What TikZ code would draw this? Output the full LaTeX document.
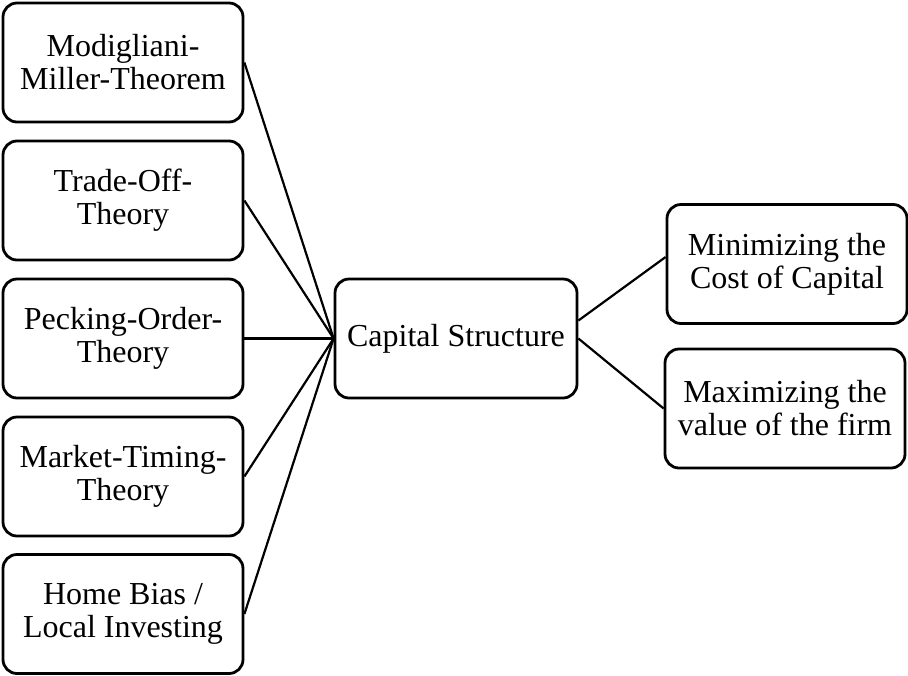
\documentclass[tikz,border=0pt]{standalone}
\usepackage{fontspec}
\setmainfont{Liberation Serif}
\usetikzlibrary{positioning}
\tikzset{
  theory/.style={draw, line width=1.4pt, rounded corners=7pt, minimum width=120pt,
    minimum height=59.5pt, align=center, inner sep=2pt,
    font=\fontsize{16}{16.5}\selectfont},
  goal/.style={theory, minimum width=121pt},
}
\begin{document}
\begin{tikzpicture}[x=0.5pt, y=-0.5pt, line width=1.1pt]
  \useasboundingbox (0,0) rectangle (908,675);
  % --- Theorien links ---
  \node[theory] (mm)  at (123,62.5)  {Modigliani-\\Miller-Theorem};
  \node[theory] (to)  at (123,200.5) {Trade-Off-\\Theory};
  \node[theory] (po)  at (123,338.5) {Pecking-Order-\\Theory};
  \node[theory] (mt)  at (123,476.5) {Market-Timing-\\Theory};
  \node[theory] (hb)  at (123,614)   {Home Bias /\\Local Investing};
  % --- Mitte ---
  \node[goal] (cs) at (456,338.5) {Capital Structure};
  % --- Ziele rechts ---
  \node[theory] (cost) at (787,264)   {Minimizing the\\Cost of Capital};
  \node[theory] (val)  at (785,408.5) {Maximizing the\\value of the firm};

  \foreach \t in {mm,to,po,mt,hb}
    \draw (\t.east) -- (cs.west);
  \draw ([yshift=9pt]cs.east) -- ([yshift=3.5pt]cost.west);
  \draw (cs.east) -- (val.west);
\end{tikzpicture}
\end{document}
